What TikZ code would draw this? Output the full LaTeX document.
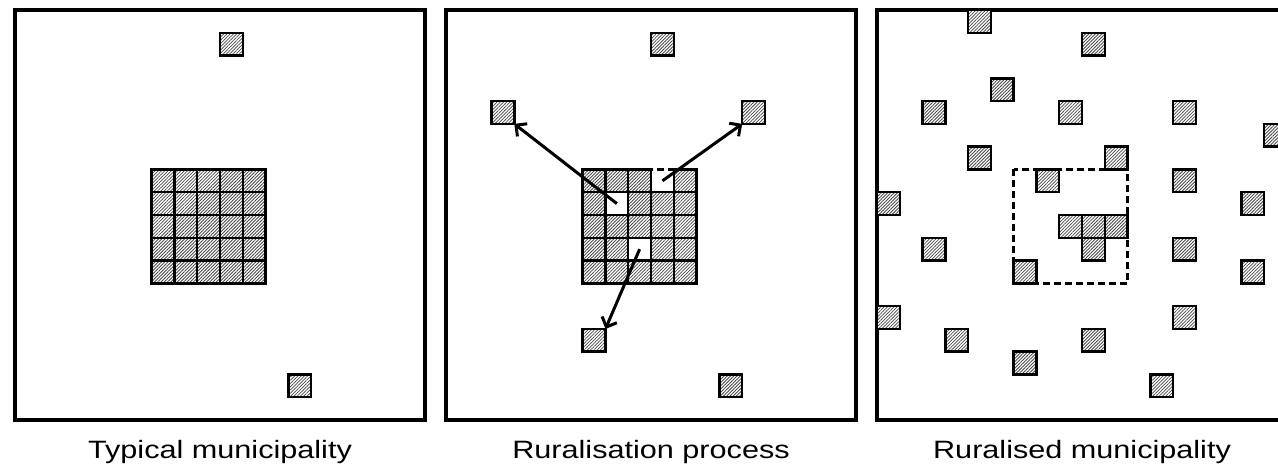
\documentclass[tikz,border=0pt]{standalone}
\usepackage{fontspec}
\newfontfamily\capfont[FakeStretch=1.22]{Liberation Sans}
\usetikzlibrary{arrows.meta,patterns.meta}
\definecolor{hatchln}{HTML}{4A4A4A}
\tikzset{
  parcel/.style={draw=black,line width=1.2pt,minimum size=11.39pt,inner sep=0pt,outer sep=0pt,
    preaction={fill=white},pattern={Lines[angle=45,distance=1.15pt,line width=0.4pt]},pattern color=hatchln},
  muni/.style={draw=black,line width=1.6pt},
  urban/.style={draw=black,dash pattern=on 3.5pt off 2pt,line width=#1},
  urban/.default=1.1pt,
  flow/.style={line width=1.5pt,-{Straight Barb[length=4pt,width=8pt,line width=1.5pt]}},
  caption/.style={anchor=base,font=\capfont\fontsize{12.55}{15}\selectfont}
}
\newcommand{\parcel}[3]{\node[parcel] (#1) at ({#2+0.5},{#3+0.5}) {};}

\begin{document}
\begin{tikzpicture}[x=11.39pt,y=-11.39pt]
    \useasboundingbox (-7.5pt,5pt) rectangle (631.5pt,-229.5pt);
    \draw[muni] (0,0) rectangle (18,18);
    \foreach \c in {6,...,10}{\foreach \r in {7,...,11}{\parcel{a-\c-\r}{\c}{\r}}}
    \parcel{a-n}{9}{1}
    \parcel{a-se}{12}{16}
    \node[caption] (cap-a) at (9,19.67) {Typical municipality};
  \begin{scope}[xshift=215.5pt]
    \draw[muni] (0,0) rectangle (18,18);
    \draw[urban] (6,7) rectangle (11,12);
    \foreach \c in {6,...,10}{\foreach \r in {7,...,11}{%
      \pgfmathtruncatemacro\gone{(\c==9&&\r==7)||(\c==7&&\r==8)||(\c==8&&\r==10)}%
      \ifnum\gone=0 \parcel{b-\c-\r}{\c}{\r}\fi}}
    \parcel{b-n}{9}{1}
    \parcel{b-w}{2}{4}
    \parcel{b-e}{13}{4}
    \parcel{b-s}{6}{14}
    \parcel{b-se}{12}{16}
    \coordinate (hole-w) at (7.5,8.5);
    \coordinate (hole-e) at (9.5,7.5);
    \coordinate (hole-s) at (8.5,10.5);
    \draw[flow] (hole-w) -- (b-w.south east);
    \draw[flow] (hole-e) -- (b-e.south west);
    \draw[flow] (hole-s) -- (b-s.north east);
    \node[caption] (cap-b) at (9,19.67) {Ruralisation process};
  \end{scope}
  \begin{scope}[xshift=431pt]
    \draw[muni] (0,0) rectangle (18,18);
    \draw[urban=1.6pt] (6,7) rectangle (11,12);
    \foreach \c/\r [count=\k] in {4/0,9/1,5/3,2/4,8/4,13/4,17/5,4/6,10/6,7/7,13/7,0/8,16/8,8/9,9/9,10/9,
      2/10,9/10,13/10,6/11,16/11,0/13,13/13,3/14,9/14,6/15,12/16}{\parcel{c-\k}{\c}{\r}}
    \node[caption] (cap-c) at (9,19.67) {Ruralised municipality};
  \end{scope}
  \end{tikzpicture}
\end{document}
